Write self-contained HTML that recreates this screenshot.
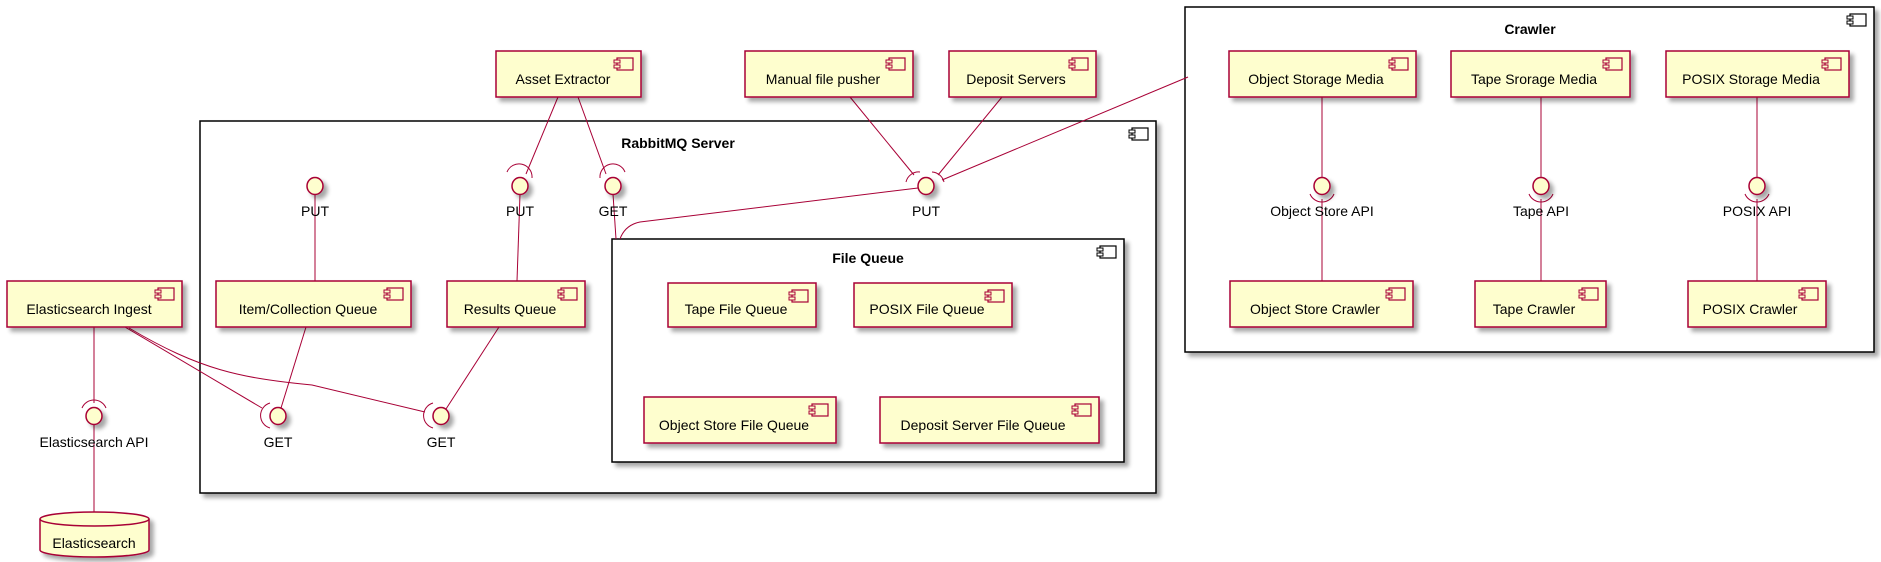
<!DOCTYPE html>
<html><head><meta charset="utf-8"><style>
html,body{margin:0;padding:0;background:#fff;}
svg{display:block;}
text{font-family:"Liberation Sans",sans-serif;font-size:14px;fill:#000;}
.t{font-weight:bold;}
.c{fill:#FEFECE;stroke:#A80036;stroke-width:1.5;}
.k{fill:#fff;stroke:#000;stroke-width:1.5;}
.l{fill:none;stroke:#A80036;stroke-width:1;}
</style></head><body>
<svg width="1881" height="562" viewBox="0 0 1881 562" xmlns="http://www.w3.org/2000/svg">
<defs>
<filter id="sh" x="-10%" y="-10%" width="130%" height="140%">
<feGaussianBlur in="SourceAlpha" stdDeviation="2"/><feOffset dx="4" dy="4"/>
<feComponentTransfer><feFuncA type="linear" slope="0.35"/></feComponentTransfer>
<feMerge><feMergeNode/><feMergeNode in="SourceGraphic"/></feMerge></filter>
<g id="ic"><rect x="0" y="0" width="16" height="12" fill="none" stroke="#A80036" stroke-width="1.2"/><rect x="-3" y="2" width="6" height="3" fill="#FEFECE" stroke="#A80036" stroke-width="1"/><rect x="-3" y="7" width="6" height="3" fill="#FEFECE" stroke="#A80036" stroke-width="1"/></g>
<g id="ick"><rect x="0" y="0" width="16" height="12" fill="none" stroke="#000" stroke-width="1.2"/><rect x="-3" y="2" width="6" height="3" fill="#fff" stroke="#000" stroke-width="1"/><rect x="-3" y="7" width="6" height="3" fill="#fff" stroke="#000" stroke-width="1"/></g>
</defs>

<!-- containers -->
<rect class="k" x="200" y="121" width="956" height="372" filter="url(#sh)"/>
<use href="#ick" x="1132" y="128"/>
<text class="t" x="678" y="148" text-anchor="middle">RabbitMQ Server</text>
<rect class="k" x="1185" y="7" width="689" height="345" filter="url(#sh)"/>
<use href="#ick" x="1850" y="14"/>
<text class="t" x="1530" y="34" text-anchor="middle">Crawler</text>
<rect class="k" x="612" y="239" width="512" height="223" filter="url(#sh)"/>
<use href="#ick" x="1100" y="246"/>
<text class="t" x="868" y="263" text-anchor="middle">File Queue</text>

<!-- lines -->
<g class="l">
<line x1="315" y1="194" x2="315" y2="281"/>
<line x1="520" y1="194" x2="517" y2="281"/>
<line x1="558" y1="97" x2="526" y2="174"/>
<line x1="578" y1="97" x2="606" y2="174"/>
<line x1="613" y1="194" x2="616" y2="239"/>
<line x1="850" y1="97" x2="914" y2="175"/>
<line x1="1002" y1="97" x2="938" y2="175"/>
<line x1="1188" y1="77" x2="942" y2="180"/>
<path d="M918,188 L640,222 Q625,225 620,239"/>
<line x1="1322" y1="97" x2="1322" y2="177"/>
<line x1="1322" y1="199" x2="1322" y2="281"/>
<line x1="1541" y1="97" x2="1541" y2="177"/>
<line x1="1541" y1="199" x2="1541" y2="281"/>
<line x1="1757" y1="97" x2="1757" y2="177"/>
<line x1="1757" y1="199" x2="1757" y2="281"/>
<line x1="94" y1="327" x2="94" y2="403"/>
<line x1="94" y1="424" x2="94" y2="512"/>
<line x1="125" y1="327" x2="262" y2="408"/>
<path d="M129,328 C200,370 240,378 312,385 L425,412"/>
<line x1="306" y1="327" x2="281" y2="408"/>
<line x1="499" y1="327" x2="446" y2="409"/>
<!-- sockets -->
<path d="M507,172 A13,13 0 0 1 532,178"/>
<path d="M600,178 A13,13 0 0 1 625,172"/>
<path d="M906,182 A13,13 0 0 1 920,172"/>
<path d="M932,172 A13,13 0 0 1 944,182"/>
<path d="M1310,194 A13,13 0 0 0 1334,194"/>
<path d="M1529,194 A13,13 0 0 0 1553,194"/>
<path d="M1745,194 A13,13 0 0 0 1769,194"/>
<path d="M82,408 A13,13 0 0 1 106,408"/>
<path d="M270,403 A13,13 0 0 0 270,428"/>
<path d="M433,403 A13,13 0 0 0 433,428"/>
</g>

<!-- interface circles -->
<g fill="#FEFECE" stroke="#A80036" stroke-width="1.5" filter="url(#sh)">
<ellipse cx="315" cy="186" rx="8" ry="8.5"/>
<ellipse cx="520" cy="186" rx="8" ry="8.5"/>
<ellipse cx="613" cy="186" rx="8" ry="8.5"/>
<ellipse cx="926" cy="186" rx="8" ry="8.5"/>
<ellipse cx="1322" cy="186" rx="8" ry="8.5"/>
<ellipse cx="1541" cy="186" rx="8" ry="8.5"/>
<ellipse cx="1757" cy="186" rx="8" ry="8.5"/>
<ellipse cx="94" cy="416" rx="8" ry="8.5"/>
<ellipse cx="278" cy="416" rx="8" ry="8.5"/>
<ellipse cx="441" cy="416" rx="8" ry="8.5"/>
</g>
<g text-anchor="middle">
<text x="315" y="216">PUT</text>
<text x="520" y="216">PUT</text>
<text x="613" y="216">GET</text>
<text x="926" y="216">PUT</text>
<text x="1322" y="216">Object Store API</text>
<text x="1541" y="216">Tape API</text>
<text x="1757" y="216">POSIX API</text>
<text x="94" y="447">Elasticsearch API</text>
<text x="278" y="447">GET</text>
<text x="441" y="447">GET</text>
</g>

<!-- components -->
<g filter="url(#sh)">
<rect class="c" x="496" y="51" width="145" height="46"/>
<rect class="c" x="745" y="51" width="168" height="46"/>
<rect class="c" x="949" y="51" width="147" height="46"/>
<rect class="c" x="1229" y="51" width="187" height="46"/>
<rect class="c" x="1451" y="51" width="179" height="46"/>
<rect class="c" x="1666" y="51" width="183" height="46"/>
<rect class="c" x="1230" y="281" width="183" height="46"/>
<rect class="c" x="1475" y="281" width="131" height="46"/>
<rect class="c" x="1688" y="281" width="138" height="46"/>
<rect class="c" x="7" y="281" width="175" height="46"/>
<rect class="c" x="216" y="281" width="195" height="46"/>
<rect class="c" x="447" y="281" width="138" height="46"/>
<rect class="c" x="668" y="283" width="148" height="44"/>
<rect class="c" x="854" y="283" width="158" height="44"/>
<rect class="c" x="644" y="397" width="192" height="46"/>
<rect class="c" x="880" y="397" width="219" height="46"/>
<path class="c" d="M40,519 A54.5,7 0 0 1 149,519 L149,550 A54.5,7 0 0 1 40,550 Z"/>
</g>
<path d="M40,519 A54.5,7 0 0 0 149,519" fill="none" stroke="#A80036" stroke-width="1.5"/>
<use href="#ic" x="617" y="58"/>
<use href="#ic" x="889" y="58"/>
<use href="#ic" x="1072" y="58"/>
<use href="#ic" x="1392" y="58"/>
<use href="#ic" x="1606" y="58"/>
<use href="#ic" x="1825" y="58"/>
<use href="#ic" x="1389" y="288"/>
<use href="#ic" x="1582" y="288"/>
<use href="#ic" x="1802" y="288"/>
<use href="#ic" x="158" y="288"/>
<use href="#ic" x="387" y="288"/>
<use href="#ic" x="561" y="288"/>
<use href="#ic" x="792" y="290"/>
<use href="#ic" x="988" y="290"/>
<use href="#ic" x="812" y="404"/>
<use href="#ic" x="1075" y="404"/>
<g text-anchor="middle">
<text x="563" y="84">Asset Extractor</text>
<text x="823" y="84">Manual file pusher</text>
<text x="1016" y="84">Deposit Servers</text>
<text x="1316" y="84">Object Storage Media</text>
<text x="1534" y="84">Tape Srorage Media</text>
<text x="1751" y="84">POSIX Storage Media</text>
<text x="1315" y="314">Object Store Crawler</text>
<text x="1534" y="314">Tape Crawler</text>
<text x="1750" y="314">POSIX Crawler</text>
<text x="89" y="314">Elasticsearch Ingest</text>
<text x="308" y="314">Item/Collection Queue</text>
<text x="510" y="314">Results Queue</text>
<text x="736" y="314">Tape File Queue</text>
<text x="927" y="314">POSIX File Queue</text>
<text x="734" y="430">Object Store File Queue</text>
<text x="983" y="430">Deposit Server File Queue</text>
<text x="94" y="548">Elasticsearch</text>
</g>
</svg>
</body></html>
